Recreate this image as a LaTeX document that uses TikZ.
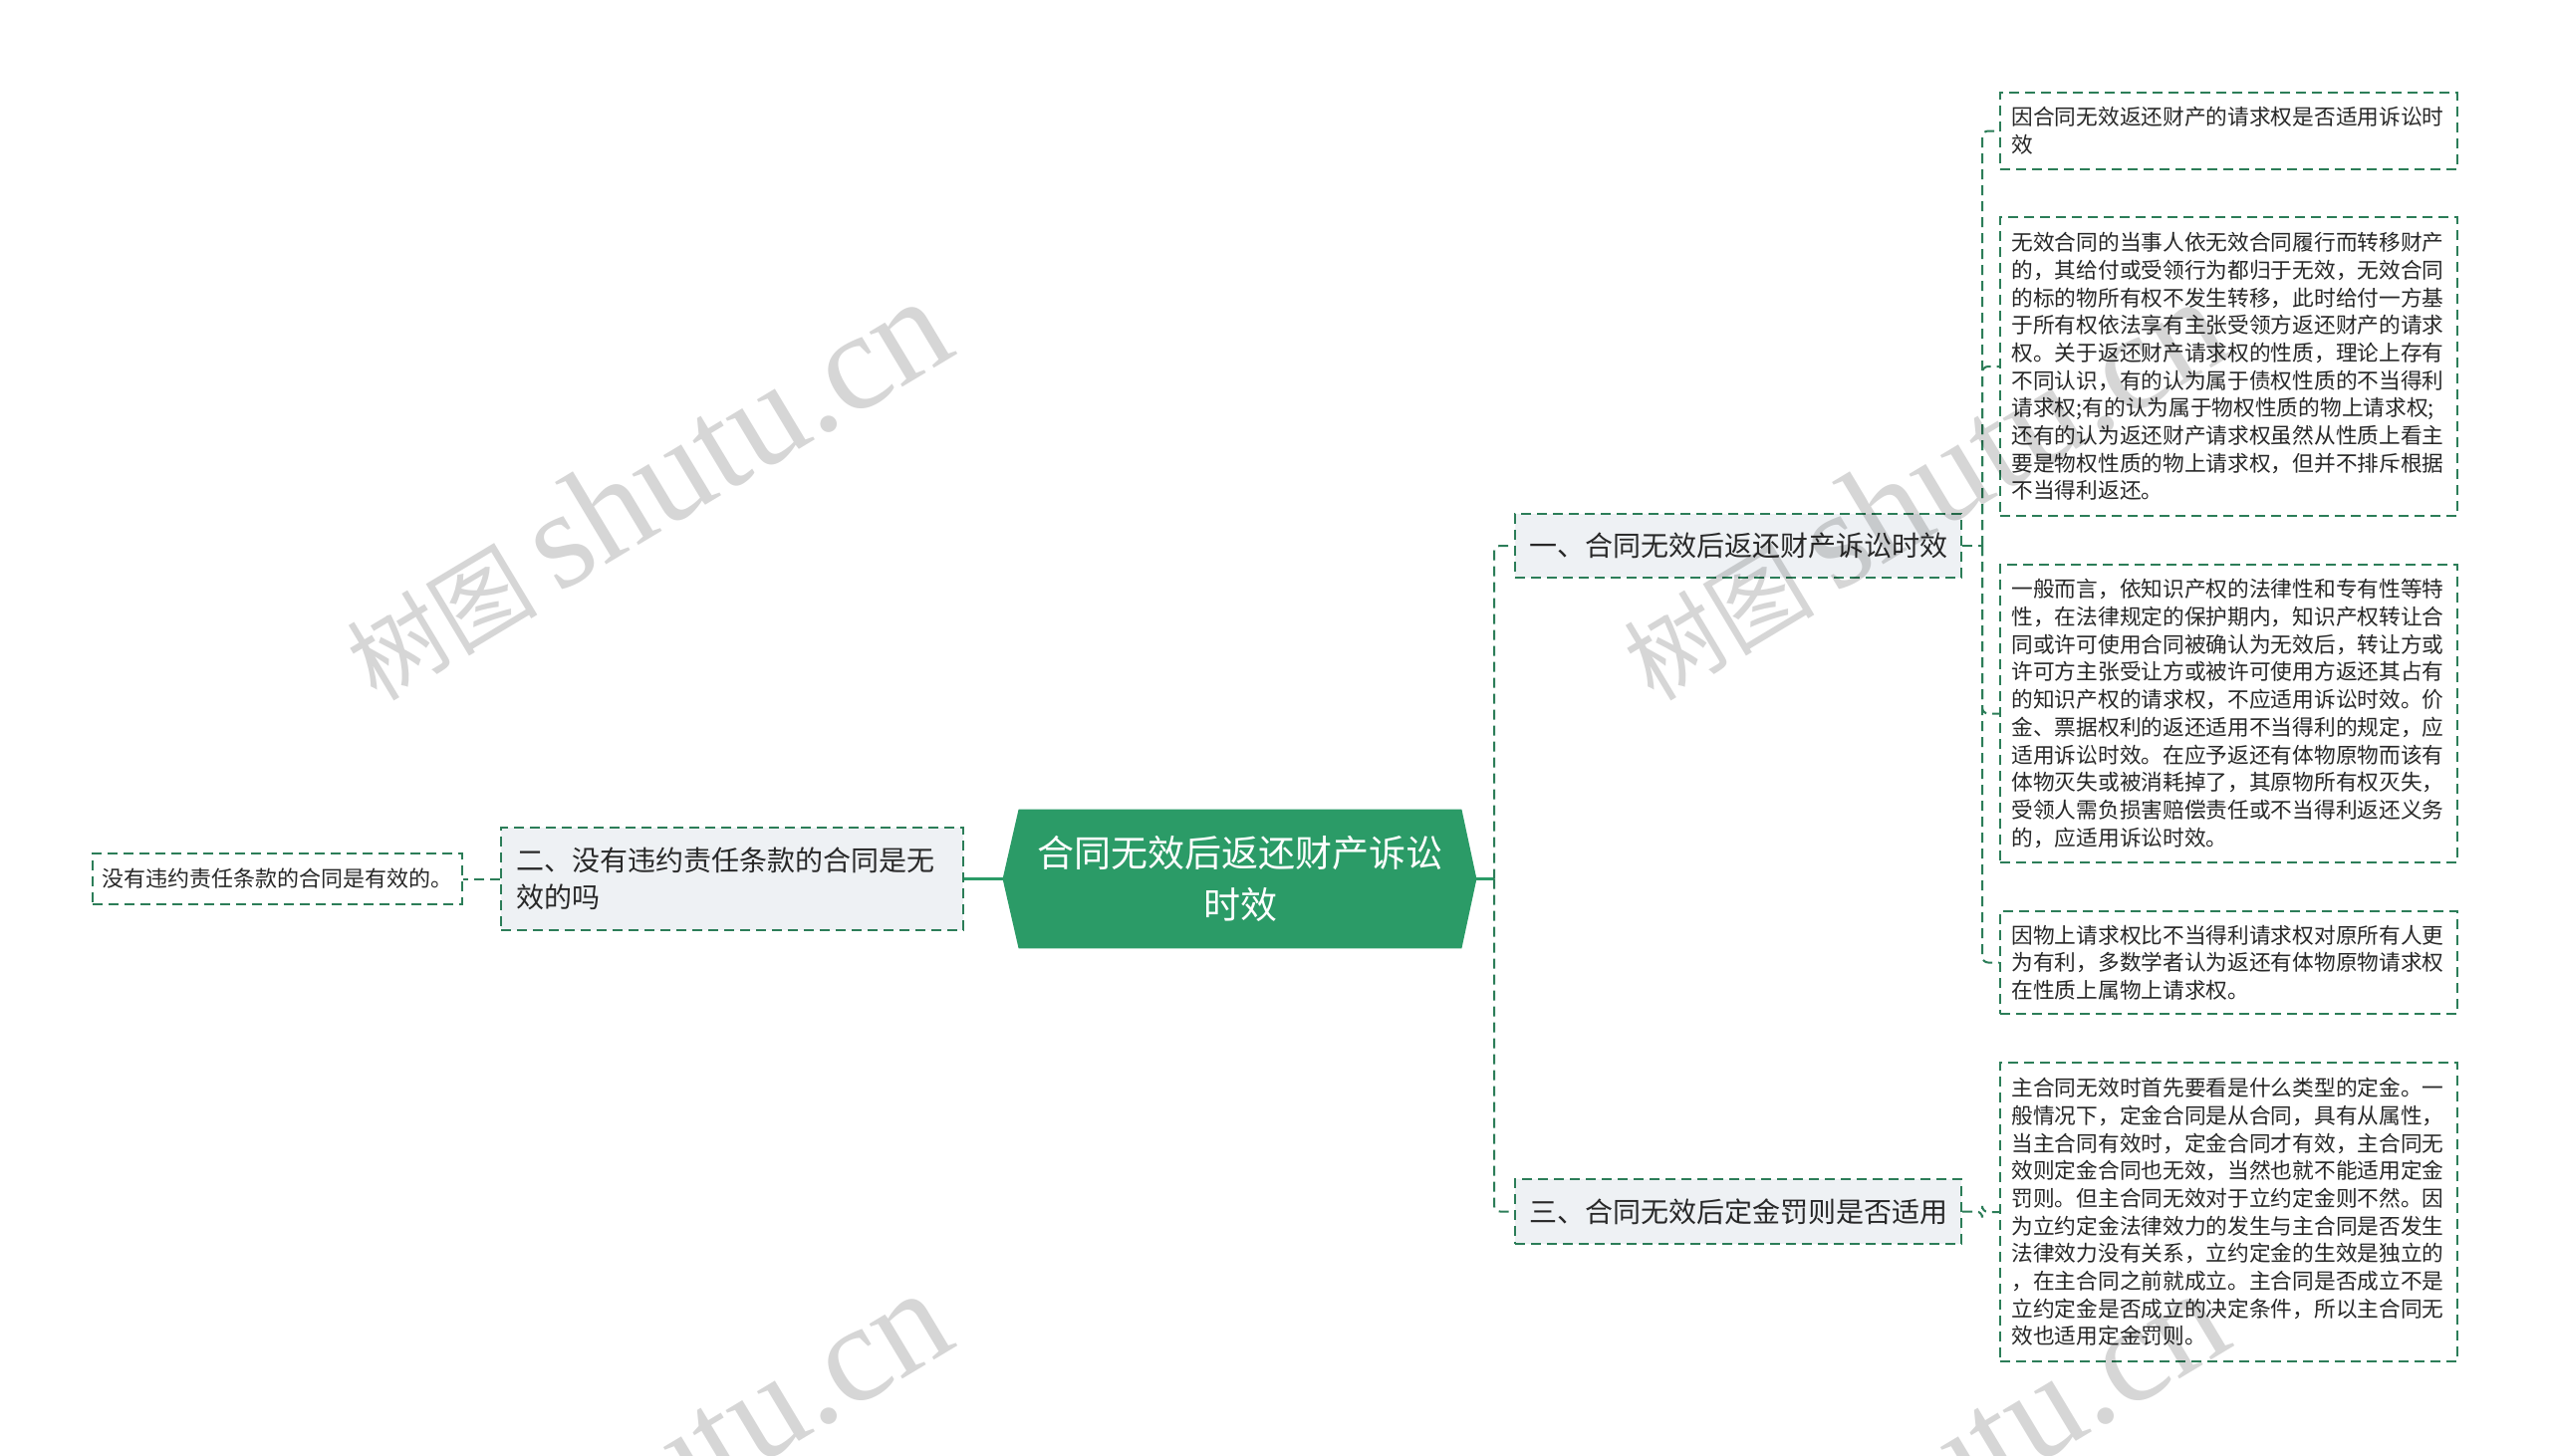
\documentclass[tikz,border=0pt]{standalone}
\usepackage{fontspec}
\setmainfont{Noto Sans CJK SC}
\newfontfamily\wmcjk{Noto Sans CJK SC}
\newfontfamily\wmlat{Liberation Serif}
\usetikzlibrary{backgrounds,calc}
\definecolor{hexfill}{RGB}{43,155,103}
\definecolor{lc}{RGB}{44,125,88}
\definecolor{bfill}{RGB}{238,241,244}
\definecolor{txt}{RGB}{40,40,40}
\begin{document}
\begin{tikzpicture}[x=0.5pt,y=-0.5pt,
  dl/.style={draw=lc, line width=1pt, dash pattern=on 5pt off 3pt},
  leaf/.style={dl, fill=white, text=txt, align=left, text width=218pt, inner xsep=5.75pt, inner ysep=0pt, font=\fontsize{10.85pt}{13.85pt}\selectfont},
  branch/.style={dl, fill=bfill, text=txt, inner ysep=0pt, font=\fontsize{14pt}{18.8pt}\selectfont},
  conn/.style={dl, rounded corners=3pt},
  solidconn/.style={draw=hexfill, line width=1.25pt},
  wm/.style={rotate=31, anchor=base west, text=black, opacity=0.16, inner sep=0pt}
]
\useasboundingbox (0,0) rectangle (2560,1462);

% central node
\node[minimum width=222pt, minimum height=69.5pt, inner sep=0pt, text=white, align=center,
      font=\fontsize{18.5pt}{26pt}\selectfont] (c) at (1245,882.5) {合同无效后返还财产诉讼\\时效};
\begin{scope}[on background layer]
  \fill[white] (0,0) rectangle (2560,1462);
  \fill[hexfill] (c.north west) -- (c.north east) -- ($(c.east)+(15,0)$) -- (c.south east)
     -- (c.south west) -- ($(c.west)+(-16,0)$) -- cycle;
\end{scope}
\coordinate (cl) at ($(c.west)+(-16,0)$);
\coordinate (cr) at ($(c.east)+(15,0)$);

% left side
\node[branch, align=left, minimum width=232pt, minimum height=51.5pt, text width=217pt, inner xsep=7.5pt] (n2) at (735,882.5)
  {二、没有违约责任条款的合同是无\\效的吗};
\node[dl, fill=white, text=txt, minimum width=185.5pt, minimum height=25.5pt, inner sep=0pt,
      font=\fontsize{11pt}{13pt}\selectfont] (l0) at (278.5,882.5) {没有违约责任条款的合同是有效的。};

% right branches
\node[branch, align=center, minimum width=224pt, minimum height=32pt, inner xsep=0pt] (n1) at (1745,548)
  {一、合同无效后返还财产诉讼时效};
\node[branch, align=center, minimum width=224pt, minimum height=32.5pt, inner xsep=0pt] (n3) at (1745,1216.5)
  {三、合同无效后定金罚则是否适用};

% leaves
\node[leaf, minimum height=38.5pt] (f1) at (2237.5,131.5)
  {因合同无效返还财产的请求权是否适用诉讼时\\效};
\node[leaf, minimum height=150pt] (f2) at (2237.5,368)
  {无效合同的当事人依无效合同履行而转移财产\\
   的，其给付或受领行为都归于无效，无效合同\\
   的标的物所有权不发生转移，此时给付一方基\\
   于所有权依法享有主张受领方返还财产的请求\\
   权。关于返还财产请求权的性质，理论上存有\\
   不同认识，有的认为属于债权性质的不当得利\\
   请求权;有的认为属于物权性质的物上请求权;\\
   还有的认为返还财产请求权虽然从性质上看主\\
   要是物权性质的物上请求权，但并不排斥根据\\
   不当得利返还。};
\node[leaf, minimum height=149.5pt] (f3) at (2237.5,716.5)
  {一般而言，依知识产权的法律性和专有性等特\\
   性，在法律规定的保护期内，知识产权转让合\\
   同或许可使用合同被确认为无效后，转让方或\\
   许可方主张受让方或被许可使用方返还其占有\\
   的知识产权的请求权，不应适用诉讼时效。价\\
   金、票据权利的返还适用不当得利的规定，应\\
   适用诉讼时效。在应予返还有体物原物而该有\\
   体物灭失或被消耗掉了，其原物所有权灭失，\\
   受领人需负损害赔偿责任或不当得利返还义务\\
   的，应适用诉讼时效。};
\node[leaf, minimum height=51.5pt] (f4) at (2237.5,966.5)
  {因物上请求权比不当得利请求权对原所有人更\\
   为有利，多数学者认为返还有体物原物请求权\\
   在性质上属物上请求权。};
\node[leaf, minimum height=150pt] (f5) at (2237.5,1217)
  {主合同无效时首先要看是什么类型的定金。一\\
   般情况下，定金合同是从合同，具有从属性，\\
   当主合同有效时，定金合同才有效，主合同无\\
   效则定金合同也无效，当然也就不能适用定金\\
   罚则。但主合同无效对于立约定金则不然。因\\
   为立约定金法律效力的发生与主合同是否发生\\
   法律效力没有关系，立约定金的生效是独立的\\
   ，在主合同之前就成立。主合同是否成立不是\\
   立约定金是否成立的决定条件，所以主合同无\\
   效也适用定金罚则。};

% connectors
\draw[solidconn] (cl) -- (n2.east);
\draw[dl] (n2.west) -- (l0.east);
\coordinate (cj) at (1500,882.5);
\draw[solidconn] (cr) -- (cj);
\draw[conn] (cj) |- (n1.west);
\draw[conn] (cj) |- (n3.west);
\coordinate (j1) at ($(n1.east)+(20,0)$);
\draw[dl] (n1.east) -- (j1);
\foreach \l in {f1,f2,f3,f4} \draw[conn] (j1) |- (\l.west);
\coordinate (j3) at ($(n3.east)+(20,0)$);
\draw[conn] (n3.east) -- (j3) |- (f5.west);

% watermarks
\begin{scope}
  \clip (0,0) rectangle (2560,1462);
  \foreach \wx/\wy [count=\i] in {378/706, 1660/706, 378/1702, 1660/1702}
    \node[wm] (w\i) at (\wx,\wy) {{\wmcjk\fontsize{48pt}{48pt}\selectfont 树图}\hspace{10pt}{\wmlat\fontsize{70pt}{70pt}\selectfont shutu.cn}};
\end{scope}
\end{tikzpicture}
\end{document}
